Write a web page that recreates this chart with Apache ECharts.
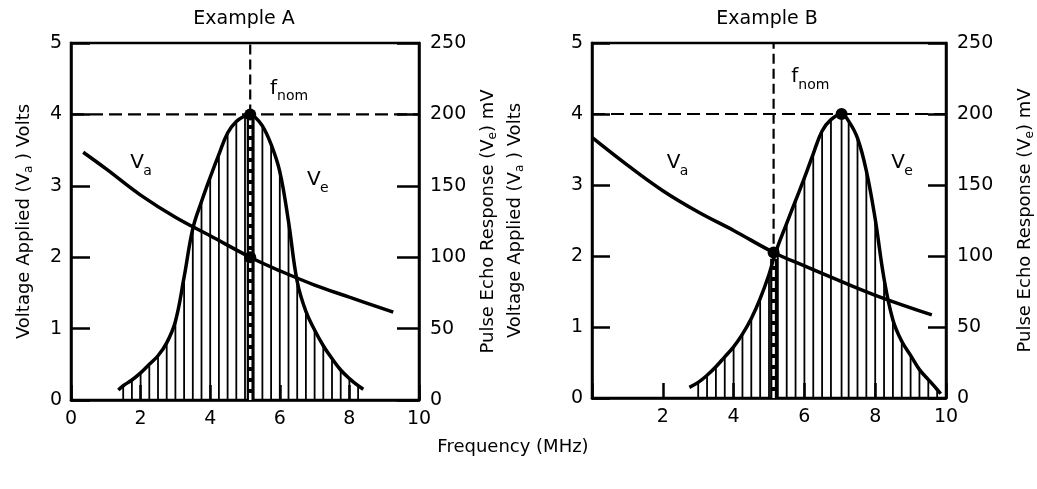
<!DOCTYPE html>
<html><head><meta charset="utf-8">
<script src="https://cdn.jsdelivr.net/npm/echarts@6/dist/echarts.min.js"></script>
<style>html,body{margin:0;padding:0;background:#fff}#c{width:1037px;height:489px}</style>
</head><body><div id="c"></div>
<script>
// ---------- data ----------
const titles = ['Example A', 'Example B'];
const xAxisName = 'Frequency (MHz)';
const xTicks = [0, 2, 4, 6, 8, 10];
const vaTicks = [0, 1, 2, 3, 4, 5];
const veTicks = [0, 50, 100, 150, 200, 250];

// Voltage applied (V) vs frequency (MHz)
const vaA = [[0.35,3.47],[1,3.24],[2,2.87],[3,2.56],[4,2.30],[5.15,2.0],[6,1.81],[7,1.61],[8,1.44],[9.26,1.23]];
const vaB = [[0,3.67],[1,3.28],[2,2.92],[3,2.62],[4,2.36],[5.13,2.05],[6,1.86],[7,1.65],[8.2,1.41],[9.6,1.17]];

// Pulse echo response (mV) vs frequency (MHz); interior points carry the hatch lines
const veA = [[1.36,7],[1.5,10],[1.75,14],[2,19],[2.25,25],[2.5,31],[2.75,40],[3,55],[3.25,86],[3.5,120],
  [3.75,139],[4,156],[4.25,172],[4.5,187],[4.75,195],[5,199],[5.15,200],[5.25,199],[5.5,192],[5.75,179],
  [6,160],[6.25,125],[6.5,83],[6.75,62],[7,49],[7.25,38],[7.5,29],[7.75,21],[8,15],[8.25,10],[8.4,7.5]];
const veB = [[2.75,7.5],[3,11],[3.25,16],[3.5,22],[3.75,29],[4,36],[4.25,45],[4.5,56],[4.75,70],[5,87],
  [5.13,98],[5.25,107],[5.5,123],[5.75,139],[6,155],[6.25,172],[6.5,188],[6.75,196],[7.05,200],[7.25,195],
  [7.5,183],[7.75,160],[8,126],[8.25,84],[8.5,55],[8.75,40],[9,30],[9.25,20],[9.5,13],[9.75,6],[9.85,3]];

// nominal frequency and marked points
const fnomA = [5.15, 200];   // [MHz, Ve mV at fnom]
const fnomB = [5.13, 98];
const peakA = [[5.15, 200]];
const peakB = [[7.05, 200]];
const vaDotA = [[5.15, 2.0]];
const vaDotB = [[5.13, 2.05]];
const refLevel = [[0, 200], [10, 200]];

// curve annotations: [MHz, Volts, main, subscript]
const notesA = [[1.70, 3.32, 'V', 'a'], [6.78, 3.08, 'V', 'e'], [5.72, 4.36, 'f', 'nom']];
const notesB = [[2.11, 3.31, 'V', 'a'], [8.45, 3.31, 'V', 'e'], [5.63, 4.52, 'f', 'nom']];

// ---------- chart ----------
const FF = 'DejaVu Sans';
const chart = echarts.init(document.getElementById('c'), null, {renderer: 'canvas'});

function xAxis(g, hideZero) {
  return {
    gridIndex: g, type: 'value', min: xTicks[0], max: xTicks[xTicks.length - 1], interval: 2,
    axisLine: {lineStyle: {color: '#000', width: 2.5}},
    axisTick: {inside: true, length: 15, lineStyle: {color: '#000', width: 2.5}},
    axisLabel: {margin: 10, fontSize: 19, fontFamily: FF, color: '#000',
      formatter: v => (hideZero && v === 0) ? '' : String(v)},
    splitLine: {show: false}
  };
}
function yAxis(g, side, ticks, name, gap, tickLen) {
  return {
    gridIndex: g, type: 'value', position: side, min: ticks[0], max: ticks[ticks.length - 1],
    interval: ticks[1] - ticks[0],
    name: name, nameLocation: 'middle', nameGap: gap,
    nameTextStyle: {fontSize: 18, fontFamily: FF, color: '#000',
      rich: {s: {fontSize: 12, fontFamily: FF, color: '#000', padding: [10, 0, 0, 0]}}},
    axisLine: {show: true, lineStyle: {color: '#000', width: 2.5}},
    axisTick: {inside: true, length: tickLen, lineStyle: {color: '#000', width: 2.5}},
    axisLabel: {margin: side === 'left' ? 9 : 11, fontSize: 19, fontFamily: FF, color: '#000'},
    splitLine: {show: false}
  };
}

function curve(xi, yi, data) {
  return {type: 'line', xAxisIndex: xi, yAxisIndex: yi, data: data, smooth: 0.4,
    showSymbol: false, silent: true, z: 4, lineStyle: {color: '#000', width: 3.5}};
}
function hatch(xi, yi, data) {
  return {type: 'custom', xAxisIndex: xi, yAxisIndex: yi, data: data.slice(1, -1), silent: true, z: 2,
    encode: {x: 0, y: 1},
    renderItem: (p, api) => {
      const x = api.value(0), v = api.value(1);
      const a = api.coord([x, 0]), b = api.coord([x, v]);
      return {type: 'line', shape: {x1: a[0], y1: a[1], x2: b[0], y2: b[1]},
        style: {stroke: '#000', lineWidth: 1.8}};
    }};
}
function fnomLine(xi, yi, point, top) {
  return {type: 'custom', xAxisIndex: xi, yAxisIndex: yi, data: [point], silent: true, z: 3,
    encode: {x: 0, y: 1},
    renderItem: (p, api) => {
      const x = api.value(0), v = api.value(1);
      const a = api.coord([x, 0]), b = api.coord([x, v]), c = api.coord([x, top]);
      return {type: 'group', children: [
        {type: 'line', shape: {x1: a[0], y1: a[1], x2: b[0], y2: b[1]}, style: {stroke: '#000', lineWidth: 7}},
        {type: 'line', shape: {x1: a[0], y1: a[1], x2: b[0], y2: b[1]}, style: {stroke: '#fff', lineWidth: 2.5, lineDash: [7, 4]}},
        {type: 'line', shape: {x1: b[0], y1: b[1], x2: c[0], y2: c[1]}, style: {stroke: '#000', lineWidth: 2.2, lineDash: [10, 5]}}
      ]};
    }};
}
function refLine(xi, yi) {
  return {type: 'line', xAxisIndex: xi, yAxisIndex: yi, data: refLevel, showSymbol: false, silent: true, z: 3,
    lineStyle: {color: '#000', width: 2.2, type: [13, 6]}};
}
function dots(xi, yi, data) {
  return {type: 'scatter', xAxisIndex: xi, yAxisIndex: yi, data: data, symbolSize: 12, silent: true, z: 5,
    itemStyle: {color: '#000', opacity: 1}};
}
function notes(xi, yi, data) {
  return {type: 'custom', xAxisIndex: xi, yAxisIndex: yi, data: data, silent: true, z: 6,
    encode: {x: 0, y: 1},
    renderItem: (p, api) => {
      const d = data[p.dataIndex];
      const c = api.coord([d[0], d[1]]);
      return {type: 'group', children: [
        {type: 'text', x: c[0], y: c[1], style: {text: d[2], fill: '#000', fontSize: 20, fontFamily: FF,
          align: 'left', verticalAlign: 'middle'}},
        {type: 'text', x: c[0] + (d[2] === 'V' ? 13 : 7), y: c[1] + 8, style: {text: d[3], fill: '#000',
          fontSize: 14, fontFamily: FF, align: 'left', verticalAlign: 'middle'}}
      ]};
    }};
}

const vaName = 'Voltage Applied (V{s|a} ) Volts';
const veName = 'Pulse Echo Response (V{s|e}) mV';

const option = {
  animation: false,
  backgroundColor: '#fff',
  grid: [
    {left: 71, top: 43, width: 348, height: 357, show: true, borderColor: '#000', borderWidth: 2.5, backgroundColor: 'transparent'},
    {left: 592, top: 43, width: 355, height: 355, show: true, borderColor: '#000', borderWidth: 2.5, backgroundColor: 'transparent'}
  ],
  xAxis: [xAxis(0, false), xAxis(1, true)],
  yAxis: [
    yAxis(0, 'left', vaTicks, vaName, 36, 19),
    yAxis(0, 'right', veTicks, veName, 58, 22),
    yAxis(1, 'left', vaTicks, vaName, 66, 18),
    yAxis(1, 'right', veTicks, veName, 68, 18)
  ],
  graphic: [
    {type: 'text', x: 244, y: 19, style: {text: titles[0], fontSize: 19, fontFamily: FF, fill: '#000', align: 'center', verticalAlign: 'middle'}},
    {type: 'text', x: 767, y: 19, style: {text: titles[1], fontSize: 19, fontFamily: FF, fill: '#000', align: 'center', verticalAlign: 'middle'}},
    {type: 'text', x: 513, y: 447, style: {text: xAxisName, fontSize: 18, fontFamily: FF, fill: '#000', align: 'center', verticalAlign: 'middle'}}
  ],
  series: [
    hatch(0, 1, veA), fnomLine(0, 1, fnomA, 250), refLine(0, 1),
    curve(0, 1, veA), curve(0, 0, vaA), dots(0, 1, peakA), dots(0, 0, vaDotA), notes(0, 0, notesA),

    hatch(1, 3, veB), fnomLine(1, 3, fnomB, 250), refLine(1, 3),
    curve(1, 3, veB), curve(1, 2, vaB), dots(1, 3, peakB), dots(1, 2, vaDotB), notes(1, 2, notesB)
  ]
};
chart.setOption(option);
</script></body></html>
